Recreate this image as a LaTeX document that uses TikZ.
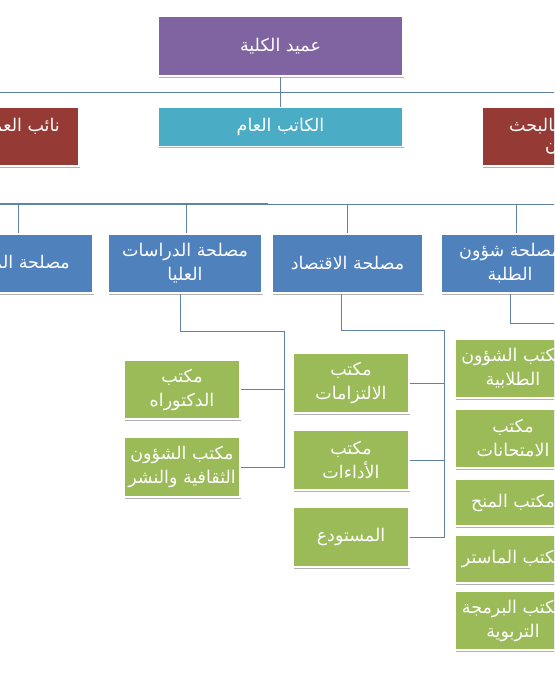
\documentclass[tikz,border=0pt]{standalone}
\usepackage{fontspec}
\newfontfamily\arabicfont[Script=Arabic]{DejaVu Sans}
\TeXXeTstate=1
\usetikzlibrary{shadows}
\definecolor{cpurple}{HTML}{8064A2}
\definecolor{cteal}{HTML}{4BACC6}
\definecolor{cred}{HTML}{963A36}
\definecolor{cblue}{HTML}{4F81BD}
\definecolor{cgreen}{HTML}{9BBB59}
\definecolor{cline}{RGB}{96,131,165}
\newcommand{\arline}[1]{\beginR #1\endR}
\begin{document}
\begin{tikzpicture}[x=1pt,y=-1pt,
  box/.style={rectangle, draw=white, line width=1.2pt, text=white,
    font=\arabicfont\fontsize{17.5}{24}\selectfont, align=center, inner sep=1pt,
    drop shadow={shadow xshift=0.6pt, shadow yshift=-1.6pt, opacity=0.3, fill=black}},
  lbl/.style={text=white, font=\arabicfont\fontsize{17.5}{24}\selectfont, inner sep=0pt},
  conn/.style={draw=cline, line width=0.8pt}]
\useasboundingbox (0,0) rectangle (554,674);
\clip (0,0) rectangle (554,674);

% top level
\node[box, fill=cpurple, minimum width=245pt, minimum height=60pt] (dean) at (280.5,46) {\arline{عميد الكلية}};
\node[box, fill=cteal, minimum width=245pt, minimum height=39pt] (katib) at (280.5,127) {\arline{الكاتب العام}};
\node[box, fill=cred, minimum width=229pt, minimum height=59pt] (vdl) at (-35.5,136.5) {};
\node[box, fill=cred, minimum width=229pt, minimum height=59pt] (vdr) at (596.5,136.5) {};
\node[lbl, anchor=east] (vdlt) at (60,126) {\arline{نائب العميد}};
\node[lbl, anchor=west] (vdrt1) at (509,126) {\arline{بالبحث}};
\node[lbl, anchor=west] (vdrt2) at (545,149) {\arline{ن}};

\coordinate (h1l) at (0,92);
\coordinate (h1r) at (554,92);
\draw[conn] (h1l) -- (h1r);
\draw[conn] (dean.south) -- (katib.north);

% services
\node[box, fill=cblue, minimum width=173pt, minimum height=59pt] (b1) at (6.5,263.5) {};
\node[lbl, anchor=east] (b1t) at (70,264) {\arline{مصلحة المستخدمين}};
\node[box, fill=cblue, minimum width=154pt, minimum height=59pt] (b2) at (185,263.5) {\arline{مصلحة الدراسات}\\\arline{العليا}};
\node[box, fill=cblue, minimum width=151pt, minimum height=59pt] (b3) at (347.5,263.5) {\arline{مصلحة الاقتصاد}};
\node[box, fill=cblue, minimum width=138pt, minimum height=59pt] (b4) at (510,263.5) {\arline{مصلحة شؤون}\\\arline{الطلبة}};

\coordinate (h2l) at (0,204);
\coordinate (h2m) at (268,204);
\coordinate (h2r) at (554,204);
\draw[conn, line width=1.2pt] (h2l) -- (h2m);
\draw[conn] (h2m) -- (h2r);
\coordinate (t1) at (18,204);
\coordinate (t2) at (186,204);
\coordinate (t3) at (347,204);
\coordinate (t4) at (516,204);
\draw[conn] (t1) -- (t1 |- b1.north);
\draw[conn] (t2) -- (t2 |- b2.north);
\draw[conn] (t3) -- (t3 |- b3.north);
\draw[conn] (t4) -- (t4 |- b4.north);

% offices of b2
\node[box, fill=cgreen, minimum width=116pt, minimum height=59pt] (d1) at (182,389.5) {\arline{مكتب}\\\arline{الدكتوراه}};
\node[box, fill=cgreen, minimum width=116pt, minimum height=60pt] (d2) at (182,467) {\arline{مكتب الشؤون}\\\arline{الثقافية والنشر}};
\coordinate (j2) at (284,331);
\draw[conn] ([xshift=-5pt]b2.south) |- (j2) |- (d2.east);
\draw[conn] (d1.east) -- (d1.east -| j2);

% offices of b3
\node[box, fill=cgreen, minimum width=116pt, minimum height=60pt] (e1) at (351,383) {\arline{مكتب}\\\arline{الالتزامات}};
\node[box, fill=cgreen, minimum width=116pt, minimum height=60pt] (e2) at (351,460) {\arline{مكتب}\\\arline{الأداءات}};
\node[box, fill=cgreen, minimum width=116pt, minimum height=60pt] (e3) at (351,537) {\arline{المستودع}};
\coordinate (j3) at (444,330);
\draw[conn] ([xshift=-6.5pt]b3.south) |- (j3) |- (e3.east);
\draw[conn] (e1.east) -- (e1.east -| j3);
\draw[conn] (e2.east) -- (e2.east -| j3);

% offices of b4
\coordinate (j4) at (554,323);
\draw[conn] (b4.south) |- (j4);
\node[box, fill=cgreen, minimum width=116pt, minimum height=59pt] (f1) at (513,368.5) {\arline{مكتب الشؤون}\\\arline{الطلابية}};
\node[box, fill=cgreen, minimum width=116pt, minimum height=59pt] (f2) at (513,438.5) {\arline{مكتب}\\\arline{الامتحانات}};
\node[box, fill=cgreen, minimum width=116pt, minimum height=47pt] (f3) at (513,502.5) {\arline{مكتب المنح}};
\node[box, fill=cgreen, minimum width=116pt, minimum height=48pt] (f4) at (513,559) {\arline{مكتب الماستر}};
\node[box, fill=cgreen, minimum width=116pt, minimum height=59pt] (f5) at (513,620.5) {\arline{مكتب البرمجة}\\\arline{التربوية}};
\end{tikzpicture}
\end{document}
